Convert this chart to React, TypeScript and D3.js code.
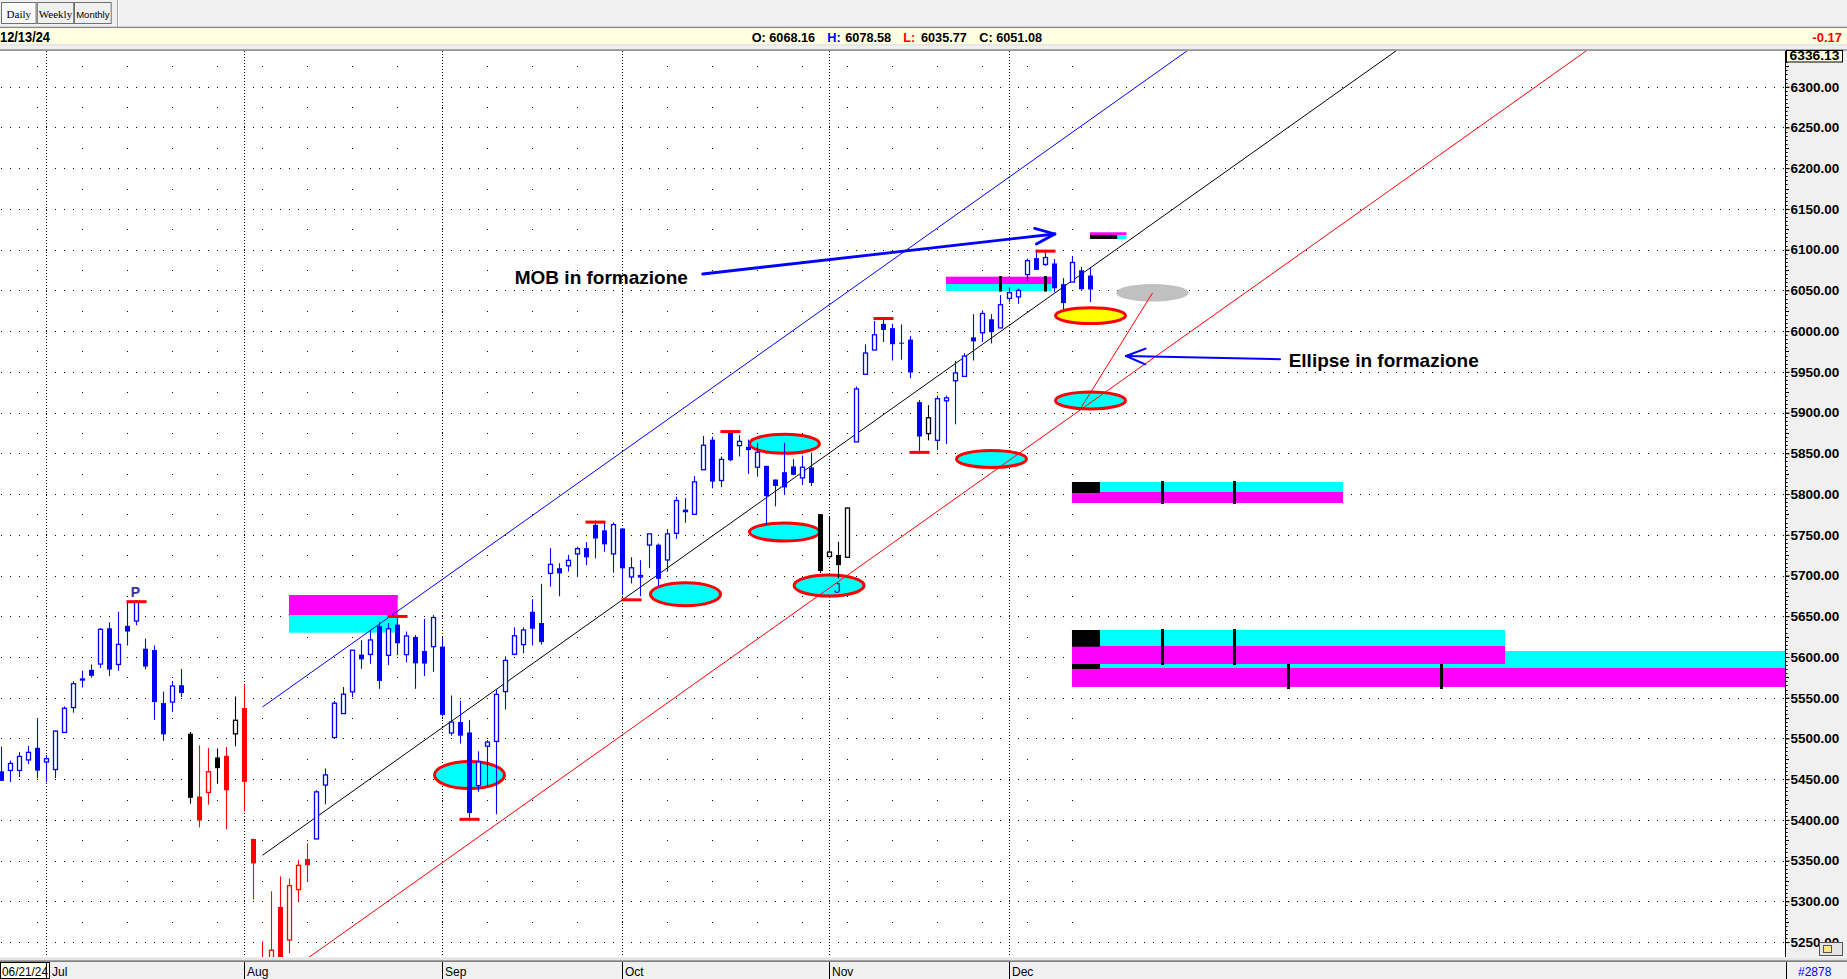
import { useEffect, useRef } from 'react'
import * as d3 from 'd3'

const W = 1847
const H = 979

// trading days shown (06/24 .. 12/13)
const dates = [
  '06/24', '06/25', '06/26', '06/27', '06/28',
  '07/01', '07/02', '07/03', '07/05', '07/08', '07/09', '07/10', '07/11', '07/12', '07/15', '07/16',
  '07/17', '07/18', '07/19', '07/22', '07/23', '07/24', '07/25', '07/26', '07/29', '07/30', '07/31',
  '08/01', '08/02', '08/05', '08/06', '08/07', '08/08', '08/09', '08/12', '08/13', '08/14', '08/15',
  '08/16', '08/19', '08/20', '08/21', '08/22', '08/23', '08/26', '08/27', '08/28', '08/29', '08/30',
  '09/03', '09/04', '09/05', '09/06', '09/09', '09/10', '09/11', '09/12', '09/13', '09/16', '09/17',
  '09/18', '09/19', '09/20', '09/23', '09/24', '09/25', '09/26', '09/27', '09/30',
  '10/01', '10/02', '10/03', '10/04', '10/07', '10/08', '10/09', '10/10', '10/11', '10/14', '10/15',
  '10/16', '10/17', '10/18', '10/21', '10/22', '10/23', '10/24', '10/25', '10/28', '10/29', '10/30', '10/31',
  '11/01', '11/04', '11/05', '11/06', '11/07', '11/08', '11/11', '11/12', '11/13', '11/14', '11/15',
  '11/18', '11/19', '11/20', '11/21', '11/22', '11/25', '11/26', '11/27', '11/29',
  '12/02', '12/03', '12/04', '12/05', '12/06', '12/09', '12/10', '12/11', '12/12', '12/13'
]

const opens = [
  5459.6, 5460.7, 5460.7, 5473.6, 5488.5,
  5471.1, 5461.8, 5507.4, 5537.9, 5572.9, 5584.2, 5591.3, 5635.2, 5590.8, 5638.2, 5644.1,
  5610.1, 5608.6, 5543.4, 5544.6, 5565.3, 5505.8, 5428.7, 5433.7, 5476.6, 5478.7, 5505.6,
  5537.3, 5376.6, 5151.1, 5206.4, 5293.1, 5252.6, 5314.5, 5352.0, 5376.6, 5442.8, 5501.1,
  5530.5, 5557.2, 5602.9, 5603.1, 5637.8, 5602.0, 5639.7, 5602.9, 5624.5, 5607.3, 5612.7,
  5612.7, 5506.7, 5520.1, 5507.3, 5442.1, 5490.5, 5496.4, 5557.5, 5603.3, 5615.2, 5655.5,
  5641.7, 5702.6, 5709.0, 5711.9, 5726.5, 5733.6, 5762.2, 5755.4, 5726.5,
  5757.7, 5698.2, 5698.2, 5737.4, 5737.8, 5719.1, 5751.8, 5778.4, 5775.1, 5829.8, 5866.7,
  5816.6, 5875.6, 5859.4, 5857.8, 5832.9, 5834.5, 5817.8, 5826.8, 5833.9, 5819.8, 5832.6, 5775.3,
  5723.2, 5725.2, 5722.4, 5864.0, 5947.0, 5976.8, 6008.9, 6003.6, 5985.8, 5989.6, 5912.8,
  5874.2, 5866.0, 5914.5, 5939.0, 5944.4, 5992.3, 5998.0, 6014.5, 6003.9,
  6040.1, 6042.0, 6069.4, 6089.6, 6081.8, 6083.0, 6057.6, 6060.2, 6074.6, 6068.16
]

const highs = [
  5490.0, 5472.9, 5483.1, 5490.8, 5523.6,
  5479.6, 5509.7, 5539.3, 5570.3, 5583.1, 5590.8, 5635.4, 5642.5, 5655.6, 5666.9, 5669.7,
  5622.5, 5614.1, 5557.5, 5570.4, 5585.3, 5508.0, 5491.5, 5488.3, 5487.7, 5489.5, 5551.5,
  5566.2, 5377.1, 5250.9, 5312.3, 5330.6, 5328.0, 5351.1, 5371.2, 5436.5, 5463.2, 5546.2,
  5563.1, 5608.3, 5620.5, 5632.7, 5643.2, 5641.8, 5651.6, 5631.2, 5627.0, 5646.9, 5651.4,
  5623.0, 5552.7, 5546.3, 5522.5, 5484.2, 5497.9, 5560.4, 5600.7, 5636.3, 5636.3, 5670.8,
  5689.8, 5733.6, 5715.1, 5725.4, 5735.3, 5741.0, 5767.4, 5765.0, 5765.1,
  5757.7, 5722.4, 5718.8, 5751.0, 5739.3, 5757.0, 5796.8, 5795.0, 5822.1, 5871.4, 5870.4,
  5846.1, 5878.5, 5872.2, 5866.9, 5863.1, 5834.9, 5817.8, 5862.8, 5842.9, 5847.2, 5850.9, 5775.3,
  5772.5, 5741.4, 5783.4, 5932.0, 5983.8, 6012.5, 6017.3, 6009.0, 6008.2, 5993.9, 5915.4,
  5909.0, 5920.7, 5920.7, 5963.4, 5972.9, 6020.8, 6025.4, 6020.8, 6044.2,
  6053.6, 6052.2, 6089.0, 6100.0, 6100.0, 6088.5, 6065.0, 6092.2, 6079.0, 6078.58
]

const lows = [
  5447.6, 5446.6, 5452.6, 5468.6, 5451.1,
  5446.3, 5451.4, 5507.4, 5531.6, 5562.5, 5574.6, 5586.4, 5576.5, 5583.1, 5614.1, 5639.0,
  5584.8, 5522.8, 5497.0, 5532.6, 5550.9, 5419.9, 5390.9, 5418.7, 5444.4, 5388.5, 5490.4,
  5410.4, 5302.4, 5119.3, 5193.6, 5192.0, 5236.6, 5300.0, 5324.4, 5376.6, 5419.1, 5501.1,
  5530.5, 5550.7, 5585.5, 5591.6, 5560.9, 5590.0, 5602.3, 5593.5, 5560.9, 5576.7, 5581.8,
  5527.1, 5503.4, 5493.8, 5402.6, 5434.5, 5441.7, 5406.9, 5535.5, 5602.0, 5604.5, 5614.1,
  5615.1, 5686.4, 5674.5, 5704.9, 5698.0, 5712.6, 5721.0, 5729.1, 5703.5,
  5677.0, 5690.3, 5674.5, 5709.0, 5686.9, 5704.6, 5745.0, 5764.8, 5775.1, 5829.8, 5807.0,
  5808.3, 5840.2, 5846.1, 5824.8, 5821.4, 5762.4, 5784.9, 5799.0, 5823.1, 5811.1, 5810.0, 5702.9,
  5723.2, 5696.5, 5722.1, 5864.0, 5947.0, 5976.8, 5986.7, 5963.9, 5965.0, 5942.3, 5853.0,
  5865.9, 5853.9, 5861.4, 5885.5, 5944.4, 5963.9, 5986.6, 5984.9, 6003.9,
  6035.4, 6033.4, 6061.1, 6076.0, 6080.1, 6047.9, 6027.0, 6060.2, 6051.2, 6035.77
]

const closes = [
  5447.9, 5469.3, 5477.9, 5482.9, 5460.5,
  5475.1, 5509.0, 5537.0, 5567.2, 5572.9, 5576.9, 5633.9, 5584.5, 5615.4, 5631.2, 5667.2,
  5588.3, 5544.6, 5505.0, 5564.4, 5555.7, 5427.1, 5399.2, 5459.1, 5463.5, 5436.4, 5522.3,
  5446.7, 5346.6, 5186.3, 5240.0, 5199.5, 5319.3, 5344.2, 5344.4, 5434.4, 5455.2, 5543.2,
  5554.3, 5608.3, 5597.1, 5620.9, 5570.6, 5634.6, 5616.8, 5625.8, 5592.2, 5591.9, 5648.4,
  5528.9, 5520.1, 5503.4, 5408.4, 5471.1, 5495.5, 5554.1, 5595.8, 5626.0, 5633.1, 5634.6,
  5618.3, 5713.6, 5702.6, 5718.6, 5732.9, 5722.3, 5745.4, 5738.2, 5762.5,
  5708.8, 5709.5, 5699.9, 5751.1, 5695.9, 5751.1, 5792.0, 5780.1, 5815.0, 5859.9, 5815.3,
  5842.5, 5841.5, 5864.7, 5853.9, 5851.2, 5797.4, 5809.9, 5808.1, 5823.5, 5832.9, 5813.7, 5705.5,
  5728.8, 5712.7, 5782.8, 5929.0, 5973.1, 5995.5, 6001.4, 5983.9, 5985.4, 5949.2, 5870.6,
  5893.6, 5917.0, 5918.0, 5948.7, 5969.3, 5987.4, 6021.6, 5998.7, 6032.4,
  6047.2, 6049.9, 6086.5, 6075.1, 6090.3, 6052.6, 6034.4, 6084.2, 6051.3, 6051.08
]

// bar colouring: b = blue, k = black, r = red
const barTrend = [
  'bbbbb',
  'bbbbbbbb' + 'bbbbbbbb' + 'krrkrk',
  'rrrrrrrr' + 'bbbbbbb' + 'bbbbbbb',
  'bbbbbbbbbb' + 'bbbbbbbbbb',
  'bbbbbbbbbbb' + 'bbbbbbbbbbb' + 'k',
  'kkk' + 'bbbbbbbb' + 'k' + 'bbbbbbbb',
  'bbbbbbbbbb'
].join('')

const monthNames = ['Jul', 'Aug', 'Sep', 'Oct', 'Nov', 'Dec']
const firstDateLabel = '06/21/24'
const lastDateLabel = '12/13/24'
const netChange = -0.17
const barCount = '#2878'
const axisTopValue = 6336.13
const periodButtons = ['Daily', 'Weekly', 'Monthly']

// red swing markers
const pivots = [
  { date: '07/16', price: 5669.7, label: 'P' },
  { date: '08/26', price: 5651.6 },
  { date: '09/06', price: 5402.6 },
  { date: '09/26', price: 5767.4 },
  { date: '10/02', price: 5672.0 },
  { date: '10/17', price: 5878.5 },
  { date: '11/11', price: 6017.3 },
  { date: '11/15', price: 5853.0 },
  { date: '12/06', price: 6100.0 }
]
const barLetters = [{ date: '11/04', price: 5678.9, text: 'J' }]

// ellipses: bar index, price centre, half height in points
const ellipses = [
  { bar: 52, price: 5455.0, half: 16.6, kind: 'cyan' },
  { bar: 76, price: 5677.0, half: 14.1, kind: 'cyan' },
  { bar: 87, price: 5861.7, half: 11.7, kind: 'cyan' },
  { bar: 87, price: 5753.4, half: 11.0, kind: 'cyan' },
  { bar: 91.95, price: 5687.7, half: 12.9, kind: 'cyan' },
  { bar: 110, price: 5843.0, half: 10.4, kind: 'cyan' },
  { bar: 121, price: 5914.8, half: 10.4, kind: 'cyan' },
  { bar: 121, price: 6019.0, half: 9.8, kind: 'yellow' }
]
const pendingEllipse = { bar: 127.87, price: 6047.0, half: 10.8 }

// MOB bands: from/to bar, top/bottom price, kind
const bands = [
  { from: 31.94, to: 44.02, top: 5651.5, bottom: 5629.8, kind: 'c' },
  { from: 31.94, to: 44.02, top: 5676.1, bottom: 5651.5, kind: 'm' },
  { from: 104.94, to: 116.69, top: 6066.8, bottom: 6057.8, kind: 'm' },
  { from: 104.94, to: 116.69, top: 6057.8, bottom: 6049.2, kind: 'c' },
  { from: 120.94, to: 125.0, top: 6121.3, bottom: 6118.0, kind: 'm' },
  { from: 120.94, to: 124.0, top: 6118.0, bottom: 6113.1, kind: 'k' },
  { from: 124.0, to: 125.0, top: 6118.0, bottom: 6113.1, kind: 'c' },
  { from: 118.94, to: 200, top: 5607.3, bottom: 5586.5, kind: 'c' },
  { from: 118.94, to: 200, top: 5586.5, bottom: 5563.2, kind: 'm' },
  { from: 118.94, to: 122.05, top: 5591.4, bottom: 5585.3, kind: 'k' },
  { from: 118.94, to: 167.06, top: 5633.1, bottom: 5613.5, kind: 'c' },
  { from: 118.94, to: 167.06, top: 5613.5, bottom: 5591.4, kind: 'm' },
  { from: 118.94, to: 122.05, top: 5633.1, bottom: 5612.6, kind: 'k' },
  { from: 118.94, to: 149.06, top: 5814.8, bottom: 5802.5, kind: 'c' },
  { from: 118.94, to: 149.06, top: 5802.5, bottom: 5789.0, kind: 'm' },
  { from: 118.94, to: 122.05, top: 5814.8, bottom: 5801.3, kind: 'k' }
]
const bandTicks = [
  { bar: 111, top: 6067.5, bottom: 6048.5 },
  { bar: 116, top: 6067.5, bottom: 6048.5 },
  { bar: 129, top: 5816.0, bottom: 5787.8 },
  { bar: 137, top: 5816.0, bottom: 5787.8 },
  { bar: 129, top: 5634.3, bottom: 5590.2 },
  { bar: 137, top: 5634.3, bottom: 5590.2 },
  { bar: 143, top: 5591.4, bottom: 5560.7 },
  { bar: 160, top: 5591.4, bottom: 5560.7 }
]

// channel lines [bar, price]
const channelLines = [
  { color: '#0000ff', from: [29, 5538.6], to: [200, 6879.2] },
  { color: '#000000', from: [29, 5356.6], to: [200, 6697.2] },
  { color: '#ff0000', from: [29, 5190.9], to: [200, 6531.5] },
  { color: '#ff0000', from: [127.9, 6047.0], to: [119.9, 5905.0] }
]

const notes = [
  { text: 'MOB in formazione', bar: 57.03, price: 6057.8 },
  { text: 'Ellipse in formazione', bar: 143.02, price: 5956.3 }
]
const arrows = [
  { from: [77.91, 6070.1], to: [117.04, 6119.2], width: 2.8 },
  { from: [142.06, 5965.4], to: [124.94, 5969.4], width: 2 }
]

const sans = 'Liberation Sans, Arial, sans-serif'
const trendColor: Record<string, string> = { b: '#0000ff', k: '#000000', r: '#ff0000' }
const bandColor: Record<string, string> = { c: '#00ffff', m: '#ff00ff', k: '#000000' }

export default function App() {
  const svgRef = useRef<SVGSVGElement>(null)

  useEffect(() => {
    if (!svgRef.current) return
    document.body.style.margin = '0'
    const svg = d3.select(svgRef.current)
    svg.selectAll('*').remove()

    const plotTop = 51
    const plotBottom = 957
    const plotRight = 1785

    const x = d3.scaleLinear().domain([0, 200]).range([1.5, 1801.5])
    const y = d3.scaleLinear().domain([5250, 6300]).range([942.1, 86.7])
    const barPx = x(1) - x(0)

    svg.attr('font-family', sans)
    svg.append('rect').attr('width', W).attr('height', H).attr('fill', '#fff')

    // ---- top toolbar
    svg.append('rect').attr('width', W).attr('height', 27).attr('fill', '#f0f0f0')
    const btnX = [1, 36.8, 74]
    const btnW = [34.6, 36.4, 36.7]
    periodButtons.forEach((label, i) => {
      svg.append('rect')
        .attr('x', btnX[i] + 0.5).attr('y', 2.5).attr('width', btnW[i]).attr('height', 21)
        .attr('fill', i === 0 ? '#fbfbfb' : '#f0f0f0')
        .attr('stroke', '#6f6f6f')
      svg.append('text')
        .attr('x', btnX[i] + btnW[i] / 2 + 0.5).attr('y', 17.5)
        .attr('text-anchor', 'middle')
        .attr('font-family', i === 2 ? sans : 'Liberation Serif, serif')
        .attr('font-size', i === 2 ? 9.5 : 11)
        .attr('fill', '#000')
        .text(label)
    })
    svg.append('line').attr('x1', 117.5).attr('x2', 117.5).attr('y1', 0).attr('y2', 27).attr('stroke', '#a0a0a0')
    svg.append('line').attr('x1', 118.5).attr('x2', 118.5).attr('y1', 0).attr('y2', 27).attr('stroke', '#fff')
    svg.append('rect').attr('y', 26.7).attr('width', W).attr('height', 1.6).attr('fill', '#8a8a8a')

    // ---- quote bar
    svg.append('rect').attr('y', 28.3).attr('width', W).attr('height', 16).attr('fill', '#ffffe1')
    svg.append('rect').attr('y', 44.3).attr('width', W).attr('height', 1.4).attr('fill', '#dcdcdc')
    svg.append('rect').attr('y', 45.7).attr('width', W).attr('height', 3.6).attr('fill', '#f0f0f0')
    svg.append('rect').attr('y', 49.3).attr('width', W).attr('height', 1.5).attr('fill', '#808080')

    svg.append('text').attr('x', 0).attr('y', 41.7)
      .attr('font-size', 14).attr('font-weight', 'bold')
      .attr('textLength', 50).attr('lengthAdjust', 'spacingAndGlyphs')
      .text(lastDateLabel)

    const last = dates.length - 1
    const quote = [
      { label: 'O:', lx: 751.7, vx: 769.3, value: opens[last], color: '#000' },
      { label: 'H:', lx: 827.3, vx: 845.3, value: highs[last], color: '#0000ff' },
      { label: 'L:', lx: 903.3, vx: 921.0, value: lows[last], color: '#ff0000' },
      { label: 'C:', lx: 979.3, vx: 996.2, value: closes[last], color: '#000' }
    ]
    quote.forEach(q => {
      svg.append('text').attr('x', q.lx).attr('y', 41.7)
        .attr('font-size', 12.7).attr('font-weight', 'bold').attr('fill', q.color).text(q.label)
      svg.append('text').attr('x', q.vx).attr('y', 41.7)
        .attr('font-size', 12.7).attr('font-weight', 'bold').attr('fill', '#000').text(q.value.toFixed(2))
    })
    svg.append('text').attr('x', 1842).attr('y', 41.7).attr('text-anchor', 'end')
      .attr('font-size', 13).attr('font-weight', 'bold').attr('fill', '#ff0000')
      .text(netChange.toFixed(2))

    // ---- plot
    svg.append('defs').append('clipPath').attr('id', 'plot-clip')
      .append('rect').attr('x', 0).attr('y', plotTop).attr('width', plotRight).attr('height', plotBottom - plotTop)
    const plot = svg.append('g').attr('clip-path', 'url(#plot-clip)')

    // grid: dense dots on 50s, sparse on 25s
    d3.range(5250, 6326, 25).forEach(p => {
      const yy = Math.round(y(p)) + 0.5
      const major = p % 50 === 0
      plot.append('line')
        .attr('x1', major ? 1 : 37).attr('x2', major ? plotRight : 1096)
        .attr('y1', yy).attr('y2', yy)
        .attr('stroke', '#000').attr('stroke-width', 1)
        .attr('stroke-dasharray', major ? '1 8' : '1 44')
    })
    const monthStarts = dates
      .map((d, i) => ({ i, m: d.slice(0, 2) }))
      .filter((d, k, arr) => k > 0 && d.m !== arr[k - 1].m)
      .map(d => d.i)
    monthStarts.forEach(i => {
      plot.append('line')
        .attr('x1', x(i)).attr('x2', x(i)).attr('y1', plotTop).attr('y2', plotBottom)
        .attr('stroke', '#000').attr('stroke-dasharray', '1 2')
    })

    // MOB bands
    plot.append('g').selectAll('rect').data(bands).join('rect')
      .attr('x', d => x(d.from))
      .attr('y', d => y(d.top))
      .attr('width', d => x(d.to) - x(d.from))
      .attr('height', d => y(d.bottom) - y(d.top))
      .attr('fill', d => bandColor[d.kind])
    plot.append('g').selectAll('rect').data(bandTicks).join('rect')
      .attr('x', d => x(d.bar) - 1.5)
      .attr('y', d => y(d.top))
      .attr('width', 3)
      .attr('height', d => y(d.bottom) - y(d.top))
      .attr('fill', '#000')

    // ellipses
    plot.append('ellipse')
      .attr('cx', x(pendingEllipse.bar)).attr('cy', y(pendingEllipse.price))
      .attr('rx', 4.03 * barPx).attr('ry', y(pendingEllipse.price - pendingEllipse.half) - y(pendingEllipse.price))
      .attr('fill', '#c0c0c0')
    plot.append('g').selectAll('ellipse').data(ellipses).join('ellipse')
      .attr('cx', d => x(d.bar))
      .attr('cy', d => y(d.price))
      .attr('rx', 3.89 * barPx)
      .attr('ry', d => y(d.price - d.half) - y(d.price))
      .attr('fill', d => (d.kind === 'yellow' ? '#ffff00' : '#00ffff'))
      .attr('stroke', '#ff0000')
      .attr('stroke-width', 3)

    // channel lines
    const lineGen = d3.line<number[]>().x(d => x(d[0])).y(d => y(d[1]))
    channelLines.forEach(l => {
      plot.append('path')
        .attr('d', lineGen([l.from, l.to]))
        .attr('fill', 'none')
        .attr('stroke', l.color)
        .attr('stroke-width', 1)
    })

    // candles
    const candles = dates.map((d, i) => ({
      i, o: opens[i], h: highs[i], l: lows[i], c: closes[i], col: trendColor[barTrend[i]]
    }))
    const bars = plot.append('g').selectAll('g').data(candles).join('g')
    bars.append('line')
      .attr('x1', d => x(d.i)).attr('x2', d => x(d.i))
      .attr('y1', d => y(d.h)).attr('y2', d => y(d.l))
      .attr('stroke', d => d.col).attr('stroke-width', 1.1)
    bars.append('rect')
      .attr('x', d => (d.c >= d.o ? x(d.i) - 2 : x(d.i) - 2.5))
      .attr('y', d => y(Math.max(d.o, d.c)))
      .attr('width', d => (d.c >= d.o ? 4 : 5))
      .attr('height', d => Math.max(1, y(Math.min(d.o, d.c)) - y(Math.max(d.o, d.c))))
      .attr('fill', d => (d.c >= d.o ? '#fff' : d.col))
      .attr('stroke', d => (d.c >= d.o ? d.col : 'none'))
      .attr('stroke-width', 1.3)

    // swing markers
    pivots.forEach(p => {
      const i = dates.indexOf(p.date)
      plot.append('rect')
        .attr('x', x(i) - 10).attr('y', y(p.price))
        .attr('width', 20).attr('height', 3)
        .attr('fill', '#ff0000')
      if (p.label) {
        plot.append('text')
          .attr('x', x(i) - 1).attr('y', y(p.price) - 3)
          .attr('text-anchor', 'middle')
          .attr('font-size', 14).attr('font-weight', 'bold')
          .attr('fill', '#3b2f9e')
          .text(p.label)
      }
    })
    barLetters.forEach(b => {
      plot.append('text')
        .attr('x', x(dates.indexOf(b.date)) - 1).attr('y', y(b.price))
        .attr('text-anchor', 'middle')
        .attr('font-size', 14)
        .attr('fill', '#1f1fa8')
        .text(b.text)
    })

    // notes and arrows
    notes.forEach(n => {
      plot.append('text')
        .attr('x', x(n.bar)).attr('y', y(n.price))
        .attr('font-size', 19).attr('font-weight', 'bold').attr('fill', '#000')
        .text(n.text)
    })
    arrows.forEach(a => {
      const x0 = x(a.from[0]), y0 = y(a.from[1])
      const x1 = x(a.to[0]), y1 = y(a.to[1])
      const ang = Math.atan2(y0 - y1, x0 - x1)
      const len = 21
      const spread = (22 * Math.PI) / 180
      const g = plot.append('g')
        .attr('stroke', '#0000ff').attr('stroke-width', a.width)
        .attr('stroke-linecap', 'round').attr('fill', 'none')
      g.append('line').attr('x1', x0).attr('y1', y0).attr('x2', x1).attr('y2', y1)
      ;[-spread, spread].forEach(s => {
        g.append('line').attr('x1', x1).attr('y1', y1)
          .attr('x2', x1 + len * Math.cos(ang + s)).attr('y2', y1 + len * Math.sin(ang + s))
      })
    })

    // ---- right price axis
    svg.append('rect').attr('x', 1786).attr('y', 50.8).attr('width', W - 1786).attr('height', 908).attr('fill', '#f0f0f0')
    d3.range(5250, 6331, 5).forEach(p => {
      const yy = Math.round(y(p)) + 0.5
      svg.append('line').attr('x1', 1786).attr('x2', p % 25 === 0 ? 1789 : 1787.6)
        .attr('y1', yy).attr('y2', yy).attr('stroke', '#000')
    })
    const axis = d3.axisRight(y)
      .tickValues(d3.range(5250, 6301, 50))
      .tickFormat(d3.format('.2f'))
      .tickSize(4)
      .tickSizeOuter(0)
    const axisG = svg.append('g').attr('transform', 'translate(1785.5,0)').call(axis)
    axisG.select('.domain').remove()
    axisG.selectAll('text')
      .attr('x', 5).attr('font-size', 13.5).attr('font-weight', 'bold')
      .attr('font-family', sans).attr('fill', '#000')
    axisG.selectAll('line').attr('stroke', '#000')
    svg.append('line').attr('x1', 1785.5).attr('x2', 1785.5).attr('y1', plotTop).attr('y2', 960).attr('stroke', '#000')

    svg.append('rect').attr('x', 1786.5).attr('y', 50.5).attr('width', 56).attr('height', 11.5)
      .attr('fill', '#ffffe1').attr('stroke', '#000')
    svg.append('text').attr('x', 1814.5).attr('y', 60.3).attr('text-anchor', 'middle')
      .attr('font-size', 12.5).attr('font-weight', 'bold')
      .attr('textLength', 50).attr('lengthAdjust', 'spacingAndGlyphs')
      .text(axisTopValue.toFixed(2))
    svg.append('rect').attr('x', 1819.5).attr('y', 942.5).attr('width', 23).attr('height', 13)
      .attr('fill', '#e4e4e4').attr('stroke', '#555')
    svg.append('rect').attr('x', 1823.5).attr('y', 945.5).attr('width', 8).attr('height', 7)
      .attr('fill', '#ffe680').attr('stroke', '#555')

    // ---- bottom date strip
    svg.append('rect').attr('y', 957).attr('width', W).attr('height', H - 957).attr('fill', '#f0f0f0')
    svg.append('rect').attr('y', 958.5).attr('width', W).attr('height', 1).attr('fill', '#d8d8d8')
    svg.append('rect').attr('y', 960.3).attr('width', W).attr('height', 1.7).attr('fill', '#808080')
    svg.append('rect').attr('x', 0.5).attr('y', 962.5).attr('width', 49).attr('height', 16)
      .attr('fill', '#fffff0').attr('stroke', '#000')
    svg.append('text').attr('x', 2).attr('y', 975.5).attr('font-size', 12)
      .attr('textLength', 46).attr('lengthAdjust', 'spacingAndGlyphs').text(firstDateLabel)
    monthStarts.forEach((i, k) => {
      const xx = x(i)
      svg.append('line').attr('x1', xx).attr('x2', xx).attr('y1', 962).attr('y2', 979).attr('stroke', '#000')
      svg.append('text').attr('x', Math.max(xx + 2.5, 52)).attr('y', 975.5)
        .attr('font-size', 12).attr('fill', '#000').text(monthNames[k])
    })
    svg.append('line').attr('x1', 1786.5).attr('x2', 1786.5).attr('y1', 962).attr('y2', 979).attr('stroke', '#000')
    svg.append('text').attr('x', 1798).attr('y', 975.5).attr('font-size', 12).attr('fill', '#0000ff').text(barCount)
  }, [])

  return (
    <svg
      ref={svgRef}
      width={W}
      height={H}
      style={{ position: 'absolute', left: 0, top: 0, display: 'block' }}
    />
  )
}
